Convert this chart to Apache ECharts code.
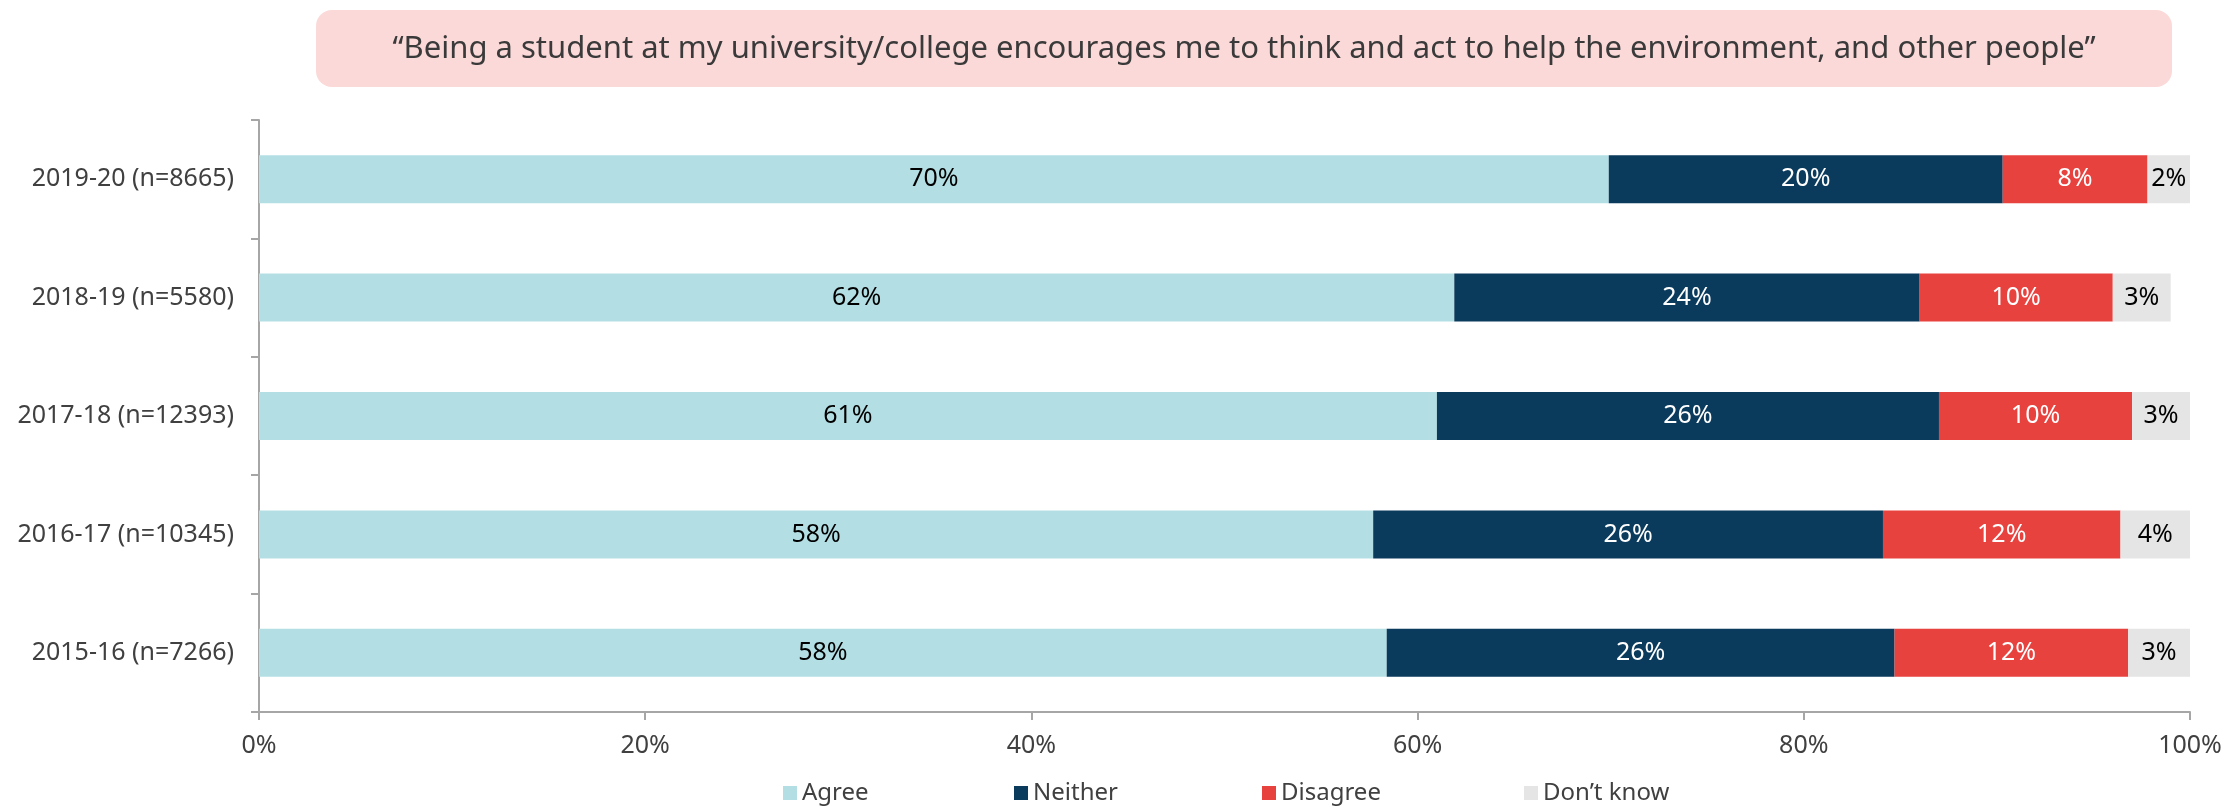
<!DOCTYPE html>
<html>
<head>
<meta charset="utf-8">
<script src="https://cdn.jsdelivr.net/npm/echarts@6/dist/echarts.min.js"></script>
<style>
html,body{margin:0;padding:0;background:#fff;}
#chart{width:2239px;height:808px;}
</style>
</head>
<body>
<div id="chart"></div>
<script>
const titleText = '\u201CBeing a student at my university/college encourages me to think and act to help the environment, and other people\u201D';
const categories = ['2019-20 (n=8665)', '2018-19 (n=5580)', '2017-18 (n=12393)', '2016-17 (n=10345)', '2015-16 (n=7266)'];
const seriesNames = ['Agree', 'Neither', 'Disagree', 'Don\u2019t know'];
const agree    = [69.9, 61.9, 61.0, 57.7, 58.4];
const neither  = [20.4, 24.1, 26.0, 26.4, 26.3];
const disagree = [7.5, 10.0, 10.0, 12.3, 12.1];
const dontKnow = [2.2, 3.0, 3.0, 3.6, 3.2];
const xTicks = [0, 20, 40, 60, 80, 100];

const colors = ['#b3dfe4', '#0a3a5c', '#e8423f', '#e5e5e5'];
const labelColors = ['#000000', '#ffffff', '#ffffff', '#000000'];
const values = [agree, neither, disagree, dontKnow];
const FONT = 'Noto Sans';

const chart = echarts.init(document.getElementById('chart'), null, {renderer: 'canvas'});

const series = seriesNames.map((name, i) => ({
  name: name,
  type: 'bar',
  stack: 'total',
  barWidth: 48,
  data: values[i],
  itemStyle: {color: colors[i]},
  label: {
    show: true,
    position: 'inside',
    color: labelColors[i],
    fontFamily: FONT,
    fontSize: 25,
    formatter: p => Math.round(p.value) + '%'
  },
  emphasis: {disabled: true}
}));

const legendLefts = [778, 1009, 1257, 1519];
const legends = seriesNames.map((name, i) => ({
  data: [name],
  left: legendLefts[i],
  top: 776,
  icon: 'rect',
  itemWidth: 14,
  itemHeight: 14,
  itemGap: 0,
  textStyle: {fontFamily: FONT, fontSize: 24, color: '#404040'},
  selectedMode: false
}));

chart.setOption({
  animation: false,
  backgroundColor: '#ffffff',
  grid: {left: 259, right: 49, top: 120, bottom: 96, containLabel: false},
  xAxis: {
    type: 'value',
    min: xTicks[0],
    max: xTicks[xTicks.length - 1],
    interval: 20,
    axisLine: {show: true, lineStyle: {color: '#a6a6a6', width: 2}},
    axisTick: {show: true, length: 8, lineStyle: {color: '#a6a6a6', width: 2}},
    splitLine: {show: false},
    axisLabel: {formatter: '{value}%', fontFamily: FONT, fontSize: 25, color: '#404040', margin: 21}
  },
  yAxis: {
    type: 'category',
    data: categories,
    inverse: true,
    axisLine: {show: true, lineStyle: {color: '#a6a6a6', width: 2}},
    axisTick: {show: true, length: 8, lineStyle: {color: '#a6a6a6', width: 2}},
    axisLabel: {fontFamily: FONT, fontSize: 25, color: '#404040', margin: 25}
  },
  legend: legends,
  graphic: [
    {
      type: 'rect',
      shape: {x: 316, y: 10, width: 1856, height: 77, r: 16},
      style: {fill: '#fbd9d8'},
      silent: true
    },
    {
      type: 'text',
      x: 1244,
      y: 49,
      style: {
        text: titleText,
        fontFamily: FONT,
        fontSize: 31,
        fill: '#3a3a3a',
        textAlign: 'center',
        textVerticalAlign: 'middle'
      },
      silent: true
    }
  ],
  series: series
});
</script>
</body>
</html>
